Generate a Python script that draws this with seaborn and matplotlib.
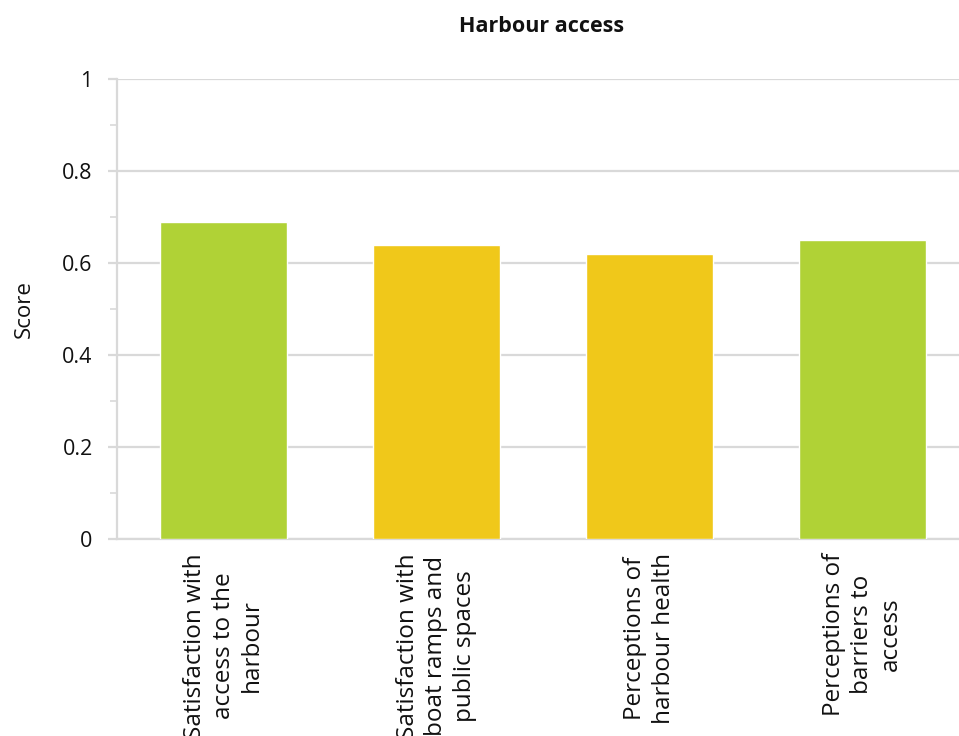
import matplotlib
matplotlib.use("Agg")
import matplotlib.pyplot as plt
from matplotlib.ticker import MultipleLocator
import seaborn as sns
import pandas as pd

categories = [
    "Satisfaction with\naccess to the\nharbour",
    "Satisfaction with\nboat ramps and\npublic spaces",
    "Perceptions of\nharbour health",
    "Perceptions of\nbarriers to\naccess",
]
scores = [0.69, 0.64, 0.62, 0.65]
bar_colors = ["#B0D236", "#F0C81A", "#F0C81A", "#B0D236"]
y_ticks = [0, 0.2, 0.4, 0.6, 0.8, 1]
y_tick_labels = ["0", "0.2", "0.4", "0.6", "0.8", "1"]

sns.set_theme(style="white")
plt.rcParams["font.family"] = ["Open Sans", "DejaVu Sans"]

df = pd.DataFrame({"category": categories, "score": scores})

fig = plt.figure(figsize=(9.59, 7.36), dpi=100)
ax = fig.add_axes([117 / 959, 1 - 539 / 736, 852 / 959, 460 / 736])

sns.barplot(data=df, x="category", y="score", hue="category",
            palette=bar_colors, legend=False, width=0.6, ax=ax,
            saturation=1, zorder=3)

grid_color = "#D9D9D9"
ax.set_ylim(0, 1)
ax.set_xlim(-0.5, 3.5)
ax.set_yticks(y_ticks)
ax.set_yticklabels(y_tick_labels)
ax.yaxis.set_minor_locator(MultipleLocator(0.1))
ax.grid(axis="y", which="major", color=grid_color, linewidth=1.6, zorder=0)
ax.set_axisbelow(True)

for side in ["top", "right"]:
    ax.spines[side].set_visible(False)
ax.spines["left"].set_color(grid_color)
ax.spines["left"].set_linewidth(1.6)
ax.spines["bottom"].set_color(grid_color)
ax.spines["bottom"].set_linewidth(1.6)

ax.tick_params(axis="y", which="major", length=6.5, width=1.6, color=grid_color,
               labelsize=15.5, pad=11, left=True, labelcolor="#111111")
ax.tick_params(axis="y", which="minor", length=5, width=1.2, color=grid_color, left=True)
ax.tick_params(axis="x", length=0, labelsize=17.5, pad=10, labelcolor="#111111")

for lbl in ax.get_xticklabels():
    lbl.set_rotation(90)
    lbl.set_ha("center")
    lbl.set_va("top")
    lbl.set_multialignment("center")
    lbl.set_linespacing(1.25)

ax.set_xlabel("")
ax.set_ylabel("Score", fontsize=16, labelpad=20, color="#111111")
fig.text(542 / 959, 1 - 27 / 736, "Harbour access", ha="center", va="center",
         fontsize=15.5, fontweight="bold", color="#111111")

fig.savefig("out.png", dpi=100, facecolor="white")
